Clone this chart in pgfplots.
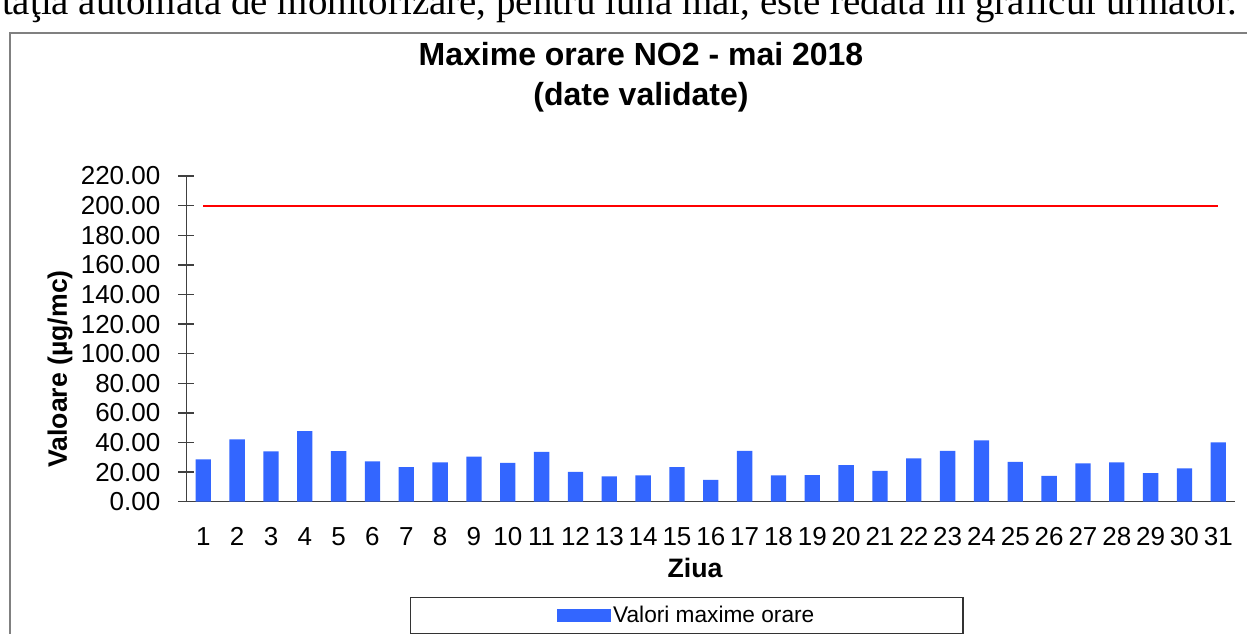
\documentclass[border=0pt]{standalone}
\usepackage{pgfplots}
\pgfplotsset{compat=1.18}
\usepackage{fontspec}
\setmainfont{Liberation Sans}
\newfontfamily\seriffont{Liberation Serif}
\definecolor{barblue}{RGB}{51,102,255}
\definecolor{boxgray}{RGB}{128,128,128}
\begin{document}
\begin{tikzpicture}
\useasboundingbox (0,0) rectangle (935.25pt,-475.5pt);
\clip (0,0) rectangle (935.25pt,-475.5pt);
\begin{scope}[x=0.75pt,y=-0.75pt]
  \node[anchor=base east,inner sep=0pt,font=\seriffont\fontsize{29.2}{34}\selectfont] at (1237,15) {Staţia automată de monitorizare, pentru luna mai, este redată în graficul următor.};
  \draw[boxgray,line width=1pt] (10,700) -- (10,33) -- (1300,33);
  \node[align=center,font=\bfseries\fontsize{24}{30}\selectfont] at (641,77) {Maxime orare NO2 - mai 2018\\(date validate)};
  \node[font=\bfseries\fontsize{20}{24}\selectfont] at (695,568) {Ziua};
  \node[rotate=90,font=\bfseries\fontsize{20}{24}\selectfont] at (60,369) {Valoare (µg/mc)};
\end{scope}
\begin{axis}[
  at={(139.8pt,-376.3pt)}, anchor=south west,
  scale only axis, width=786.6pt, height=244.3pt,
  xmin=0.5, xmax=31.5, ymin=0, ymax=220,
  axis lines*=left,
  axis line style={black!75, line width=1pt},
  xtick={1,...,31},
  ytick={0,20,...,220},
  major x tick style={draw=none},
  major y tick style={black!75, line width=1pt},
  tick align=center, major tick length=12pt,
  ticklabel style={font=\fontsize{19.5}{23}\selectfont},
  /pgf/number format/assume math mode=true,
  yticklabel style={/pgf/number format/fixed, /pgf/number format/fixed zerofill, /pgf/number format/precision=2, xshift=-10pt},
  xticklabel style={yshift=-10pt},
  clip=false,
  legend style={at={(0.2132,-0.2926)}, anchor=north west, draw=black!80, line width=0.8pt,
    inner xsep=110pt, inner ysep=6pt, font=\fontsize{17}{20}\selectfont,
    nodes={inner xsep=1.5pt, inner ysep=0.5pt}},
  legend image code/.code={\fill[barblue] (0pt,-5pt) rectangle (40.5pt,5pt);},
]
\addplot[ybar, bar width=11.5pt, fill=barblue, draw=none] coordinates {
(1,28.6) (2,42.1) (3,34.0) (4,47.7) (5,34.2) (6,27.3) (7,23.4) (8,26.6) (9,30.4) (10,26.3)
(11,33.7) (12,20.2) (13,17.1) (14,17.8) (15,23.4) (16,14.8) (17,34.4) (18,17.8) (19,18.0) (20,24.8)
(21,20.9) (22,29.3) (23,34.4) (24,41.4) (25,27.0) (26,17.5) (27,25.9) (28,26.6) (29,19.4) (30,22.5)
(31,40.1)};
\addlegendentry{Valori maxime orare}
\addplot[red, line width=1.5pt, forget plot] coordinates {(1,200) (31,200)};
\end{axis}
\end{tikzpicture}
\end{document}
